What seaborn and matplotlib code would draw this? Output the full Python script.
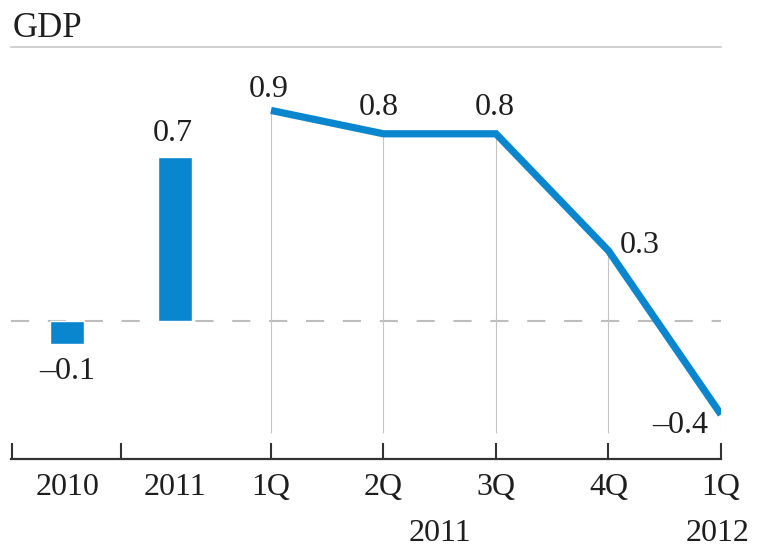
import numpy as np
import matplotlib
matplotlib.use("Agg")
import matplotlib.pyplot as plt
import seaborn as sns

# data
annual_labels = ["2010", "2011"]
annual_values = [-0.1, 0.7]
quarter_labels = ["1Q", "2Q", "3Q", "4Q", "1Q"]
quarter_values = [0.9, 0.8, 0.8, 0.3, -0.4]
year_labels = ["2011", "2012"]

# layout (x positions on the axis, one unit per quarter)
annual_pos = [-1.81, -0.85]
quarter_pos = [0, 1, 2, 3, 4]
year_pos = [1.5, 3.97]
edge_ticks = [-2.30, -1.333]

blue = "#0a86cf"
ink = "#1e1e1e"

sns.set_style("white")
plt.rcParams["font.family"] = ["Liberation Serif", "DejaVu Serif"]
plt.rcParams["font.size"] = 23
plt.rcParams["text.color"] = ink
plt.rcParams["xtick.color"] = ink

fig = plt.figure(figsize=(7.57, 5.48), dpi=100)
ax = fig.add_axes([11 / 757, 89 / 548, 710 / 757, 412 / 548])

# zero line
ax.axhline(0, color="#bdbdbd", lw=1.5, dashes=(8.7, 9), zorder=1)

# annual bars
sns.barplot(x=annual_pos, y=annual_values, native_scale=True, width=0.315,
            color=blue, saturation=1, errorbar=None, ax=ax, zorder=3)

# quarterly line with drop lines
ax.vlines(quarter_pos, -0.479, quarter_values, color="#c4c4c4", lw=0.8, zorder=2)
sns.lineplot(x=quarter_pos, y=quarter_values, color=blue, lw=5.2, ax=ax, zorder=4)
for l in ax.lines:
    l.set_solid_joinstyle("miter")
    l.set_solid_capstyle("butt")

def fmt(v):
    return f"{v:.1f}".replace("-", "\u2013")

# value labels
ax.annotate(fmt(annual_values[0]), (annual_pos[0], annual_values[0]), xytext=(0, -9),
            textcoords="offset points", ha="center", va="top")
ax.annotate(fmt(annual_values[1]), (annual_pos[1], annual_values[1]), xytext=(-2, 11.5),
            textcoords="offset points", ha="center", va="baseline")
q_offsets = [(-1.5, 9.4, "center"), (-3.5, 13.5, "center"), (-1, 13.5, "center"),
             (8, -1.5, "left"), (-9.5, -13, "right")]
for x, v, (dx, dy, ha) in zip(quarter_pos, quarter_values, q_offsets):
    ax.annotate(fmt(v), (x, v), xytext=(dx, dy), textcoords="offset points",
                ha=ha, va="baseline")

# axes
ax.set_xlim(-2.311, 4.0)
ax.set_ylim(-0.590, 1.171)
ax.set_yticks([])
ax.set_ylabel("")
for s in ["left", "right"]:
    ax.spines[s].set_visible(False)
ax.spines["top"].set_color("#c8c8c8")
ax.spines["top"].set_linewidth(1.2)
ax.spines["bottom"].set_color("#333333")
ax.spines["bottom"].set_linewidth(1.6)

ax.set_xticks(edge_ticks + quarter_pos)
ax.set_xticklabels(["", ""] + quarter_labels)
ax.set_xticks(annual_pos, minor=True)
ax.set_xticklabels(annual_labels, minor=True)
ax.tick_params(axis="x", which="major", bottom=True, direction="in", length=11.5,
               width=1.5, color="#333333", pad=10)
ax.tick_params(axis="x", which="minor", bottom=True, length=0, pad=10)

for x, lab in zip(year_pos, year_labels):
    ax.annotate(lab, (x, 0), xycoords=("data", "axes fraction"), xytext=(0, -59),
                textcoords="offset points", ha="center", va="baseline",
                annotation_clip=False)

fig.text(13 / 757, 1 - 37 / 548, "GDP", ha="left", va="baseline", fontsize=25)

fig.savefig("out.png", dpi=100)
